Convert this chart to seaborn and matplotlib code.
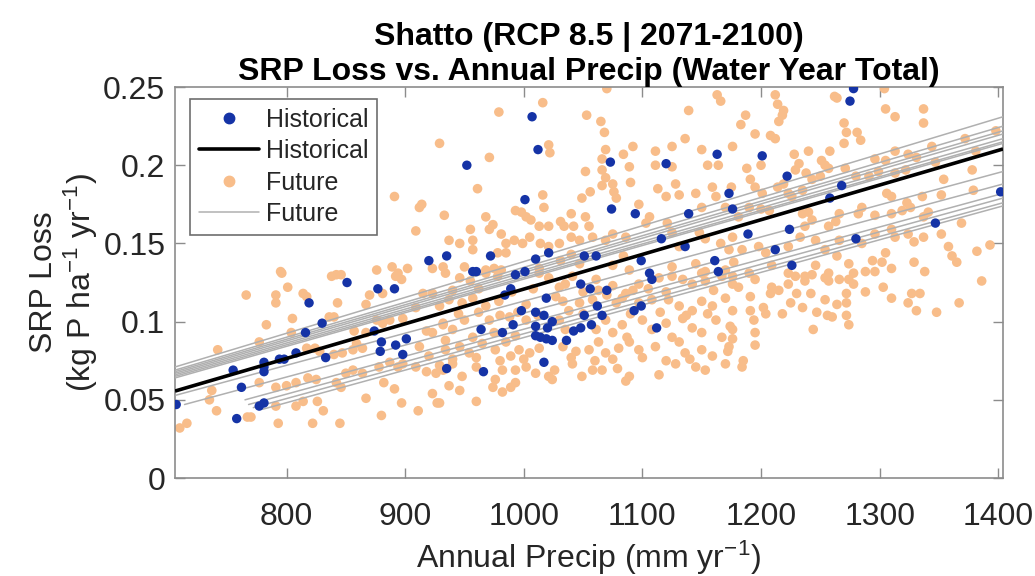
import matplotlib
matplotlib.use("Agg")
import matplotlib.pyplot as plt
from matplotlib.lines import Line2D
import seaborn as sns
import numpy as np

# ---------------- data ----------------
hist_precip = [707, 755, 762, 758, 781, 781, 781, 777, 781, 794,
               798, 808, 816, 819, 830, 833, 851, 874, 877, 891,
               880, 879, 892, 898, 901, 935, 920, 935, 1007, 1012,
               952, 1073, 1120, 1163, 1001, 1074, 1094, 1139, 1173, 1176,
               972, 957, 960, 993, 1001, 1010, 1021, 1051, 1061, 1099,
               1116, 1136, 1161, 1164, 1106, 1108, 1048, 1056, 1070, 989,
               984, 1019, 998, 1010, 1017, 1024, 1062, 1066, 1051, 1057,
               1093, 1099, 1112, 964, 982, 991, 1010, 1020, 1010, 1014,
               1019, 1024, 1036, 1042, 1048, 1017, 966, 1278, 1275, 1201,
               1222, 1268, 1258, 1189, 1224, 1212, 1226, 1280, 1347, 1402]
hist_srp = [0.047, 0.069, 0.058, 0.038, 0.074, 0.071, 0.068, 0.046, 0.048, 0.076,
            0.076, 0.080, 0.093, 0.112, 0.099, 0.077, 0.125, 0.094, 0.121, 0.121,
            0.087, 0.081, 0.085, 0.079, 0.089, 0.070, 0.139, 0.142, 0.231, 0.210,
            0.200, 0.202, 0.201, 0.207, 0.178, 0.172, 0.169, 0.169, 0.182, 0.172,
            0.142, 0.132, 0.132, 0.130, 0.132, 0.140, 0.144, 0.142, 0.142, 0.139,
            0.153, 0.148, 0.139, 0.132, 0.131, 0.127, 0.124, 0.121, 0.120, 0.121,
            0.117, 0.115, 0.107, 0.106, 0.104, 0.100, 0.110, 0.104, 0.104, 0.098,
            0.107, 0.110, 0.096, 0.095, 0.093, 0.098, 0.097, 0.096, 0.091, 0.090,
            0.089, 0.088, 0.088, 0.094, 0.096, 0.074, 0.068, 0.249, 0.241, 0.206,
            0.193, 0.187, 0.179, 0.156, 0.159, 0.146, 0.136, 0.153, 0.163, 0.183]

fut_precip = [
    929, 891, 912, 914, 933, 909, 796, 842, 846, 876,
    889, 894, 902, 932, 923, 795, 766, 791, 791, 801,
    814, 817, 838, 843, 836, 840, 805, 783, 804, 777,
    742, 817, 824, 828, 840, 847, 856, 864, 857, 867,
    870, 881, 892, 897, 876, 881, 887, 898, 909, 915,
    923, 929, 932, 918, 923, 912, 920, 909, 918, 926,
    929, 934, 894, 898, 887, 878, 864, 856, 850, 842,
    846, 825, 818, 808, 800, 791, 777, 737, 735, 741,
    767, 770, 791, 808, 814, 826, 831, 822, 793, 845,
    867, 880, 882, 891, 897, 911, 923, 927, 710, 716,
    867, 859,
    1070, 1016, 979, 1053, 1065, 1068, 1139, 1163, 1166, 1021,
    1022, 971, 1069, 1066, 1092, 1084, 1111, 1125, 1136, 1150,
    1176, 1155, 1164, 1052, 1066, 1069, 1089, 1111, 1090, 961,
    1056, 1066, 1075, 1076, 1078, 1049, 1016, 1017, 993, 998,
    968, 974, 971, 955, 981, 1002, 1006, 1013, 1021, 1031,
    1034, 1040, 1052, 1055, 1042, 1097, 1106, 1103, 1113, 1120,
    1128, 1131, 1145, 1150, 1159, 1162, 1170, 1121, 1125, 1148,
    1153, 1166, 1176, 1173, 1131, 1086, 1075, 1069, 1058, 1047,
    1040, 1030, 1021, 1014, 1005, 992, 985, 957, 946, 937,
    957, 978, 985, 999, 950, 968, 975, 981, 1013, 1031,
    1040, 1047, 1075, 1084, 1089, 1125, 1145, 1153, 1170, 1177,
    1212, 1214, 1219, 1218, 1215, 1187, 1183, 1262, 1264, 1305,
    1304, 1337, 1337, 1313, 1270, 1272, 1281, 1284, 1270, 1195,
    1208, 1212, 1228, 1240, 1232, 1229, 1188, 1200, 1191, 1195,
    1201, 1214, 1219, 1223, 1226, 1235, 1243, 1250, 1251, 1258,
    1257, 1254, 1271, 1280, 1296, 1305, 1313, 1324, 1331, 1344,
    1347, 1372, 1381, 1398, 1322, 1313, 1299, 1291, 1306, 1310,
    1323, 1326, 1319, 1336, 1354, 1352, 1378, 1379, 1341, 1337,
    1310, 1296, 1285, 1282, 1266, 1263, 1257, 1243, 1240, 1235,
    1207, 1200, 1190, 1181, 1184, 1198, 1204, 1209, 1223, 1233,
    1237, 1246, 1254, 1266, 1264, 1274, 1257, 1223, 1237, 1246,
    1285, 1296, 1305, 1310, 1313, 1324, 1329, 1337, 1352, 1358,
    1369, 1382, 1393, 1294, 1302, 1329, 1338, 1310, 1288, 1278,
    1361, 1365,
    934, 946, 955, 968, 978, 1013, 1021, 1030, 1035, 1041,
    1061, 1063, 1075, 1086, 1097, 1114, 1125, 1134, 1142, 1150,
    1153, 1167, 1176,
    937, 948, 957, 968, 979, 1002, 1027, 1033, 1038, 1047,
    1058, 1078, 1083, 1097, 1108, 1122, 1131, 1142, 1150, 1159,
    1170, 1176,
    932, 940, 950, 957, 971, 975, 988, 993, 1002, 1030,
    1035, 1061, 1069, 1075, 1083, 1087, 1100, 1108, 1120, 1125,
    1134, 1142, 1150, 1162, 1167, 1174,
    934, 946, 954, 965, 976, 985, 989, 996, 1005, 1013,
    1033, 1044, 1055, 1063, 1069, 1080, 1089, 1097, 1111, 1131,
    1136, 1150, 1159, 1173,
    932, 940, 948, 960, 976, 982, 993, 1002, 1010, 1021,
    1026, 1041, 1049, 1058, 1066, 1079, 1089, 1114, 1128, 1145,
    1153, 1170,
    937, 946, 960, 974, 982, 989, 993, 1024, 1086, 929,
    1176, 1181, 1190, 1195, 1209, 1215, 1208, 1223, 1229, 1237,
    1243, 1254, 1257, 1266, 1274, 1278, 1296, 1386,
    1191, 1202, 1204, 1218, 1225, 1230, 1235, 1242, 1247, 1254,
    1256, 1260, 1264, 1272, 1272, 1272, 1288, 1303, 1310, 1324,
    1327, 1334, 1331, 1348, 1367,
    1191, 1194, 1195, 1195, 1176, 1176, 1172, 1185, 1184, 1244,
    1274,
    940, 962, 990, 1008, 1050, 1070, 1092, 1105, 1120, 1160,
    945, 962, 980, 995, 1012, 1050, 1090, 1115, 1137, 1155,
    940, 960, 980, 1000, 1040, 1060, 1075, 1100, 1120, 1140,
    1125, 1175, 1238,
]
fut_srp = [
    0.214, 0.180, 0.173, 0.175, 0.168, 0.158, 0.131, 0.130, 0.130, 0.133,
    0.135, 0.131, 0.134, 0.135, 0.134, 0.132, 0.117, 0.117, 0.112, 0.122,
    0.118, 0.116, 0.129, 0.112, 0.103, 0.103, 0.102, 0.098, 0.093, 0.087,
    0.082, 0.083, 0.083, 0.081, 0.079, 0.080, 0.082, 0.083, 0.094, 0.111,
    0.117, 0.118, 0.129, 0.127, 0.101, 0.099, 0.101, 0.102, 0.109, 0.118,
    0.118, 0.110, 0.098, 0.094, 0.093, 0.084, 0.078, 0.071, 0.068, 0.067,
    0.072, 0.082, 0.071, 0.073, 0.074, 0.071, 0.067, 0.069, 0.067, 0.061,
    0.058, 0.063, 0.064, 0.061, 0.059, 0.058, 0.061, 0.056, 0.050, 0.043,
    0.039, 0.039, 0.046, 0.046, 0.049, 0.049, 0.043, 0.035, 0.035, 0.035,
    0.051, 0.040, 0.061, 0.057, 0.048, 0.043, 0.054, 0.048, 0.032, 0.035,
    0.093, 0.086,
    0.249, 0.240, 0.234, 0.232, 0.228, 0.221, 0.235, 0.245, 0.241, 0.213,
    0.208, 0.205, 0.210, 0.204, 0.212, 0.207, 0.209, 0.212, 0.217, 0.210,
    0.212, 0.200, 0.200, 0.196, 0.197, 0.192, 0.199, 0.200, 0.189, 0.185,
    0.183, 0.187, 0.188, 0.183, 0.179, 0.179, 0.181, 0.173, 0.171, 0.170,
    0.167, 0.162, 0.159, 0.159, 0.156, 0.167, 0.165, 0.161, 0.161, 0.164,
    0.161, 0.169, 0.167, 0.161, 0.161, 0.175, 0.167, 0.163, 0.185, 0.180,
    0.188, 0.181, 0.182, 0.173, 0.186, 0.180, 0.173, 0.163, 0.157, 0.157,
    0.153, 0.150, 0.154, 0.146, 0.148, 0.154, 0.156, 0.152, 0.154, 0.152,
    0.154, 0.150, 0.148, 0.150, 0.154, 0.152, 0.150, 0.152, 0.150, 0.152,
    0.146, 0.144, 0.144, 0.150, 0.135, 0.133, 0.134, 0.133, 0.134, 0.139,
    0.143, 0.137, 0.136, 0.142, 0.133, 0.135, 0.137, 0.132, 0.133, 0.138,
    0.245, 0.239, 0.235, 0.232, 0.228, 0.232, 0.226, 0.244, 0.243, 0.236,
    0.249, 0.236, 0.227, 0.231, 0.227, 0.221, 0.221, 0.216, 0.214, 0.220,
    0.219, 0.217, 0.207, 0.209, 0.201, 0.197, 0.198, 0.200, 0.191, 0.186,
    0.182, 0.186, 0.188, 0.182, 0.180, 0.184, 0.191, 0.193, 0.203, 0.209,
    0.198, 0.200, 0.198, 0.193, 0.204, 0.203, 0.209, 0.207, 0.205, 0.212,
    0.202, 0.217, 0.209, 0.222, 0.197, 0.195, 0.196, 0.193, 0.182, 0.180,
    0.176, 0.173, 0.171, 0.180, 0.191, 0.181, 0.197, 0.184, 0.170, 0.167,
    0.169, 0.168, 0.173, 0.169, 0.169, 0.164, 0.161, 0.165, 0.170, 0.169,
    0.171, 0.172, 0.173, 0.167, 0.146, 0.148, 0.144, 0.136, 0.148, 0.154,
    0.161, 0.152, 0.146, 0.152, 0.142, 0.137, 0.131, 0.131, 0.129, 0.136,
    0.150, 0.156, 0.144, 0.159, 0.154, 0.156, 0.151, 0.154, 0.156, 0.148,
    0.163, 0.145, 0.149, 0.139, 0.138, 0.138, 0.132, 0.134, 0.132, 0.131,
    0.142, 0.138,
    0.131, 0.128, 0.126, 0.131, 0.129, 0.131, 0.128, 0.122, 0.124, 0.129,
    0.127, 0.120, 0.123, 0.118, 0.124, 0.128, 0.129, 0.127, 0.124, 0.131,
    0.126, 0.129, 0.124,
    0.114, 0.112, 0.115, 0.110, 0.113, 0.111, 0.116, 0.113, 0.107, 0.112,
    0.114, 0.112, 0.115, 0.112, 0.114, 0.114, 0.110, 0.107, 0.113, 0.110,
    0.115, 0.107,
    0.099, 0.095, 0.101, 0.090, 0.101, 0.093, 0.103, 0.091, 0.101, 0.101,
    0.095, 0.095, 0.101, 0.093, 0.098, 0.090, 0.101, 0.095, 0.099, 0.090,
    0.102, 0.096, 0.093, 0.101, 0.090, 0.097,
    0.088, 0.084, 0.080, 0.086, 0.082, 0.087, 0.078, 0.082, 0.080, 0.083,
    0.084, 0.081, 0.082, 0.087, 0.080, 0.083, 0.087, 0.082, 0.084, 0.087,
    0.080, 0.082, 0.078, 0.084,
    0.069, 0.073, 0.065, 0.071, 0.063, 0.069, 0.069, 0.071, 0.067, 0.065,
    0.069, 0.073, 0.065, 0.069, 0.069, 0.070, 0.065, 0.066, 0.073, 0.071,
    0.069, 0.073,
    0.059, 0.056, 0.049, 0.058, 0.055, 0.058, 0.061, 0.063, 0.062, 0.048,
    0.129, 0.122, 0.131, 0.127, 0.122, 0.120, 0.118, 0.124, 0.129, 0.126,
    0.130, 0.128, 0.126, 0.127, 0.127, 0.124, 0.132, 0.126,
    0.116, 0.109, 0.105, 0.105, 0.112, 0.118, 0.109, 0.118, 0.106, 0.114,
    0.104, 0.103, 0.111, 0.118, 0.112, 0.104, 0.119, 0.122, 0.115, 0.112,
    0.118, 0.118, 0.107, 0.106, 0.112,
    0.107, 0.101, 0.093, 0.085, 0.095, 0.089, 0.081, 0.075, 0.071, 0.095,
    0.098,
    0.120, 0.121, 0.119, 0.121, 0.119, 0.117, 0.120, 0.121, 0.119, 0.120,
    0.105, 0.106, 0.104, 0.106, 0.104, 0.105, 0.105, 0.106, 0.104, 0.105,
    0.076, 0.077, 0.075, 0.076, 0.077, 0.075, 0.076, 0.077, 0.075, 0.076,
    0.199, 0.186, 0.195,
]

# historical regression line (end points)
hist_fit_precip = [706, 1404]
hist_fit_srp = [0.0556, 0.2104]

# future regression lines: start / end precip and SRP
fut_fit_x0 = [706, 706, 706, 706, 706, 706, 706, 707, 714, 765, 768, 772, 780]
fut_fit_x1 = [1404] * 13
fut_fit_y0 = [0.071, 0.069, 0.068, 0.067, 0.066, 0.065, 0.064,
              0.053, 0.047, 0.050, 0.047, 0.045, 0.044]
fut_fit_y1 = [0.231, 0.225, 0.222, 0.220, 0.217, 0.215, 0.214,
              0.196, 0.188, 0.182, 0.179, 0.176, 0.174]

x_ticks = [800, 900, 1000, 1100, 1200, 1300, 1400]
y_ticks = [0, 0.05, 0.1, 0.15, 0.2, 0.25]
y_tick_labels = ["0", "0.05", "0.1", "0.15", "0.2", "0.25"]

title_lines = ["Shatto (RCP 8.5 | 2071-2100)",
               "SRP Loss vs. Annual Precip (Water Year Total)"]
legend_labels = ["Historical", "Historical", "Future", "Future"]

# ---------------- style ----------------
sns.set_theme(style="white")
plt.rcParams["font.family"] = ["Liberation Sans", "DejaVu Sans"]
plt.rcParams["mathtext.fontset"] = "custom"
plt.rcParams["mathtext.rm"] = "Liberation Sans"
plt.rcParams["mathtext.it"] = "Liberation Sans"
plt.rcParams["mathtext.default"] = "regular"

BLUE = "#1533a6"
ORANGE = "#f8bd8a"
GREY = "#b0b0b0"
TXT = "#262626"
SPINE = "#8c8c8c"

fig = plt.figure(figsize=(10.35, 5.76), dpi=100)
ax = fig.add_axes([0.1691, 0.1701, 0.8000, 0.6788])

sns.scatterplot(x=fut_precip, y=fut_srp, ax=ax, color=ORANGE, s=48,
                edgecolor="none", linewidth=0, zorder=2, legend=False)
for x0, x1, y0, y1 in zip(fut_fit_x0, fut_fit_x1, fut_fit_y0, fut_fit_y1):
    ax.plot([x0, x1], [y0, y1], color=GREY, lw=1.1, zorder=3)
sns.scatterplot(x=hist_precip, y=hist_srp, ax=ax, color=BLUE, s=46,
                edgecolor="none", linewidth=0, zorder=4, legend=False)
ax.plot(hist_fit_precip, hist_fit_srp, color="black", lw=2.6, zorder=5,
        solid_capstyle="butt")

ax.set_xlim(706, 1404)
ax.set_ylim(0, 0.25)
ax.set_xticks(x_ticks)
ax.set_xticklabels([str(v) for v in x_ticks])
ax.set_yticks(y_ticks)
ax.set_yticklabels(y_tick_labels)

ax.tick_params(axis="both", which="both", direction="in", length=7, width=1,
               color=SPINE, labelcolor=TXT, labelsize=23,
               top=True, right=True, bottom=True, left=True)
ax.tick_params(axis="x", pad=17)
ax.tick_params(axis="y", pad=7)
for sp in ax.spines.values():
    sp.set_visible(True)
    sp.set_color(SPINE)
    sp.set_linewidth(1.2)

ax.set_xlabel("Annual Precip (mm yr$^{-1}$)", fontsize=23, color=TXT, labelpad=5)
ax.set_ylabel("SRP Loss\n(kg P ha$^{-1}$ yr$^{-1}$)", fontsize=23, color=TXT,
              labelpad=2, linespacing=1.1)
ax.set_title("\n".join(title_lines), fontsize=23, fontweight="bold",
             color="black", pad=2, linespacing=1.2)

handles = [
    Line2D([], [], marker="o", color=BLUE, linestyle="none", markersize=7.5),
    Line2D([], [], color="black", lw=2.6),
    Line2D([], [], marker="o", color=ORANGE, linestyle="none", markersize=7.5),
    Line2D([], [], color=GREY, lw=1.1),
]
leg = ax.legend(handles, legend_labels, loc="upper left",
                bbox_to_anchor=(0.018, 0.97), fontsize=18, frameon=True,
                fancybox=False, edgecolor="#6e6e6e", framealpha=1,
                handlelength=2.4, handletextpad=0.3, labelspacing=0.3,
                borderpad=0.35, borderaxespad=0)
leg.get_frame().set_linewidth(1.2)
for t in leg.get_texts():
    t.set_color(TXT)

fig.savefig("out.png", dpi=100)
